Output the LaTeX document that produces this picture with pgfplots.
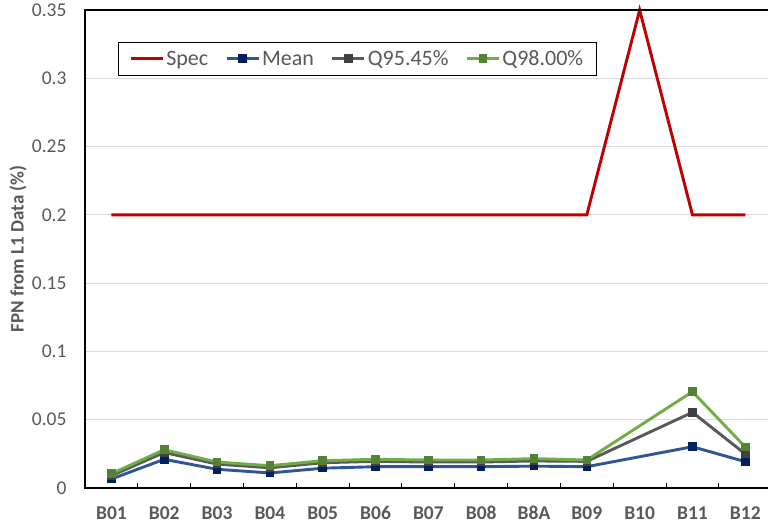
\documentclass[border=0pt]{standalone}
\usepackage{fontspec}
\setmainfont{Carlito}
\usepackage{pgfplots}
\pgfplotsset{compat=1.18}
\definecolor{specred}{HTML}{C00000}
\definecolor{meanline}{HTML}{2F5597}
\definecolor{meanmark}{HTML}{002060}
\definecolor{qgray}{HTML}{595959}
\definecolor{qgraymark}{HTML}{404040}
\definecolor{qgreen}{HTML}{70AD47}
\definecolor{qgreenmark}{HTML}{548235}
\definecolor{txtgray}{HTML}{595959}
\definecolor{gridgray}{HTML}{D9D9D9}

\begin{document}
\begin{tikzpicture}
\begin{axis}[
    scale only axis,
    width=683pt, height=478pt,
    xmin=-0.5, xmax=12.43,
    ymin=0, ymax=0.35,
    axis line style={draw=none},
    xtick={0,...,12},
    xticklabels={B01,B02,B03,B04,B05,B06,B07,B08,B8A,B09,B10,B11,B12},
    minor xtick={0.5,1.5,...,11.5},
    major tick length=0pt,
    minor tick length=5pt,
    tick align=inside,
    xtick pos=bottom, ytick pos=left,
    tick style={black, line width=0.9pt},
    ytick={0,0.05,...,0.35},
    yticklabels={0,0.05,0.1,0.15,0.2,0.25,0.3,0.35},
    ymajorgrids,
    grid style={gridgray, line width=0.9pt},
    xticklabel style={font=\fontsize{19.5}{21}\selectfont\bfseries, text=txtgray, anchor=center, yshift=-25pt},
    yticklabel style={font=\fontsize{19.5}{21}\selectfont, text=txtgray, anchor=east, xshift=-15pt},
    ylabel={FPN from L1 Data (\%)},
    ylabel style={at={(axis description cs:-0.098,0.5)}, anchor=center,
        font=\fontsize{19}{21}\selectfont\bfseries, text=txtgray},
    legend columns=4,
    legend style={at={(axis description cs:0.0483,0.933)}, anchor=north west,
        draw=black, line width=0.9pt, font=\fontsize{22}{24}\selectfont, text=txtgray,
        inner xsep=11pt, inner ysep=6pt,
        /tikz/every even column/.append style={column sep=15pt}},
    legend image code/.code={\draw[mark repeat=2, mark phase=2, #1]
        plot coordinates {(0pt,0pt) (16pt,0pt) (32pt,0pt)};},
    legend image post style={line width=2.9pt},
    clip=false,
]
\addplot[specred, line width=2.9pt, no marks] coordinates {
    (0,0.2) (1,0.2) (2,0.2) (3,0.2) (4,0.2) (5,0.2) (6,0.2) (7,0.2) (8,0.2) (9,0.2) (10,0.35) (11,0.2) (12,0.2)
};
\addlegendentry{Spec}
\addplot[meanline, line width=2.9pt, mark=square*, mark size=3.8pt,
    mark options={fill=meanmark, draw=meanmark, line width=0pt}] coordinates {
    (0,0.0066) (1,0.021) (2,0.0137) (3,0.011) (4,0.0145) (5,0.0156) (6,0.0156) (7,0.0156) (8,0.016) (9,0.0156) (11,0.0302) (12,0.0193)
};
\addlegendentry{Mean}
\addplot[qgray, line width=2.9pt, mark=square*, mark size=3.8pt,
    mark options={fill=qgraymark, draw=qgraymark, line width=0pt}] coordinates {
    (0,0.009) (1,0.026) (2,0.0175) (3,0.0148) (4,0.0185) (5,0.0195) (6,0.019) (7,0.019) (8,0.0198) (9,0.0195) (11,0.0554) (12,0.0249)
};
\addlegendentry{Q95.45\%}
\addplot[qgreen, line width=2.9pt, mark=square*, mark size=3.8pt,
    mark options={fill=qgreenmark, draw=qgreenmark, line width=0pt}] coordinates {
    (0,0.0105) (1,0.028) (2,0.019) (3,0.0163) (4,0.020) (5,0.021) (6,0.0205) (7,0.0205) (8,0.0215) (9,0.0205) (11,0.0705) (12,0.030)
};
\addlegendentry{Q98.00\%}
\draw[black, line width=1.2pt] (rel axis cs:1,1) -- (rel axis cs:0,1) -- (rel axis cs:0,0) -- (rel axis cs:1,0);
\end{axis}
\pgfresetboundingbox
\path ([shift={(-85pt,-38pt)}]current axis.south west) rectangle ([shift={(0pt,10pt)}]current axis.north east);
\end{tikzpicture}
\end{document}
